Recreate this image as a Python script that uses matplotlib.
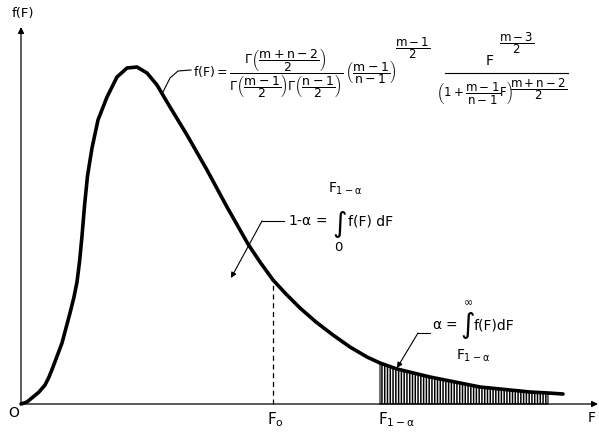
import numpy as np
import matplotlib
matplotlib.use('Agg')
import matplotlib.pyplot as plt

plt.rcParams['font.family'] = ['DejaVu Sans']
plt.rcParams['mathtext.fontset'] = 'custom'
plt.rcParams['mathtext.rm'] = 'DejaVu Sans'
plt.rcParams['mathtext.it'] = 'DejaVu Sans'
plt.rcParams['mathtext.sf'] = 'DejaVu Sans'
plt.rcParams['mathtext.bf'] = 'DejaVu Sans:bold'
plt.rcParams['hatch.linewidth'] = 1.1

# curve (F, f(F))
F_curve = np.array([0.00, 0.06, 0.12, 0.18, 0.24, 0.28, 0.32, 0.41, 0.49, 0.53,
                    0.56, 0.585, 0.61, 0.635, 0.665, 0.71, 0.77, 0.86, 0.96, 1.06,
                    1.16, 1.26, 1.36, 1.46, 1.66, 1.86, 2.06, 2.27, 2.39, 2.52,
                    2.65, 2.79, 2.95, 3.12, 3.29, 3.46, 3.59, 3.76, 4.09, 4.59,
                    5.09, 5.27, 5.42])
f_curve = np.array([0.00, 0.02, 0.07, 0.12, 0.19, 0.27, 0.37, 0.61, 0.91, 1.07,
                    1.22, 1.42, 1.68, 1.98, 2.28, 2.56, 2.84, 3.07, 3.27, 3.36,
                    3.37, 3.31, 3.19, 3.02, 2.69, 2.34, 1.97, 1.60, 1.42, 1.24,
                    1.10, 0.96, 0.82, 0.69, 0.57, 0.47, 0.41, 0.35, 0.27, 0.17,
                    0.12, 0.11, 0.10])

F_0 = 2.52          # dashed line
F_0_height = 1.24
F_crit = 3.59       # F_{1-alpha}, start of hatched tail
F_hatch_end = 5.27

fig = plt.figure(figsize=(5.99, 4.36), dpi=100, facecolor='white')
ax = fig.add_axes([0, 0, 1, 1])
ax.set_xlim(-0.21, 5.78)
ax.set_ylim(-0.32, 4.04)
ax.axis('off')

# axes with arrows
ax.annotate('', xy=(5.77, 0), xytext=(0, 0),
            arrowprops=dict(arrowstyle='-|>', color='black', lw=0.9,
                            mutation_scale=9, shrinkA=0, shrinkB=0))
ax.annotate('', xy=(0, 3.77), xytext=(0, 0),
            arrowprops=dict(arrowstyle='-|>', color='black', lw=0.9,
                            mutation_scale=9, shrinkA=0, shrinkB=0))

# hatched tail
m = (F_curve >= F_crit) & (F_curve <= F_hatch_end)
ax.fill_between(F_curve[m], 0, f_curve[m], facecolor='white', edgecolor='black',
                hatch='||||||', linewidth=0.8)

# density curve
ax.plot(F_curve, f_curve, color='black', lw=2.6, solid_capstyle='round',
        solid_joinstyle='round')

# dashed line at F_0
ax.plot([F_0, F_0], [0, F_0_height], color='black', lw=0.9, ls=(0, (4, 3)))

# axis labels
ax.text(0.015, 3.91, 'f(F)', fontsize=9.5, ha='center', va='center')
ax.text(-0.07, -0.09, 'O', fontsize=10, ha='center', va='center')
ax.text(5.71, -0.14, 'F', fontsize=10, ha='center', va='center')
ax.text(2.46, -0.06, r'$F_{o}$', fontsize=11, ha='left', va='top')
ax.text(3.57, -0.06, r'$F_{1-\alpha}$', fontsize=11, ha='left', va='top')

# formula for f(F), built in pieces so the exponents stay large
ax.plot([1.42, 1.49, 1.57, 1.70], [3.12, 3.26, 3.33, 3.34], color='black', lw=0.8)
left_part = (r'$f(F)=\dfrac{\Gamma\left(\dfrac{m+n-2}{2}\right)}'
             r'{\Gamma\left(\dfrac{m-1}{2}\right)\Gamma\left(\dfrac{n-1}{2}\right)}'
             r'\,\left(\dfrac{m-1}{n-1}\right)$')
ax.text(1.72, 3.31, left_part, fontsize=9, ha='left', va='center')
ax.text(3.92, 3.56, r'$\dfrac{m-1}{2}$', fontsize=8.5, ha='center', va='center')
ax.plot([4.24, 5.47], [3.31, 3.31], color='black', lw=0.8)
ax.text(4.69, 3.43, r'$F$', fontsize=10, ha='center', va='center')
ax.text(4.96, 3.61, r'$\dfrac{m-3}{2}$', fontsize=8.5, ha='center', va='center')
ax.text(4.54, 3.12, r'$\left(1+\dfrac{m-1}{n-1}F\right)$', fontsize=8.5,
        ha='center', va='center')
ax.text(5.18, 3.15, r'$\dfrac{m+n-2}{2}$', fontsize=8.5, ha='center', va='center')

# 1 - alpha annotation
ax.annotate('', xy=(2.10, 1.26), xytext=(2.41, 1.83),
            arrowprops=dict(arrowstyle='-|>', color='black', lw=0.8,
                            mutation_scale=8, shrinkA=0, shrinkB=0))
ax.plot([2.41, 2.63], [1.83, 1.83], color='black', lw=0.8)
ax.text(2.67, 1.83, r'1-$\alpha$ =', fontsize=10, ha='left', va='center')
ax.text(3.19, 1.80, '\u222b', fontsize=20, ha='center', va='center')
ax.text(3.27, 1.83, 'f(F) dF', fontsize=10, ha='left', va='center')
ax.text(3.24, 2.15, r'$F_{1-\alpha}$', fontsize=10, ha='center', va='center')
ax.text(3.17, 1.57, '0', fontsize=9.5, ha='center', va='center')

# alpha annotation
ax.annotate('', xy=(3.76, 0.36), xytext=(3.97, 0.71),
            arrowprops=dict(arrowstyle='-|>', color='black', lw=0.8,
                            mutation_scale=8, shrinkA=0, shrinkB=0))
ax.plot([3.97, 4.09], [0.71, 0.71], color='black', lw=0.8)
ax.text(4.11, 0.79, r'$\alpha$ =', fontsize=10, ha='left', va='center')
ax.text(4.47, 0.79, '\u222b', fontsize=20, ha='center', va='center')
ax.text(4.53, 0.79, 'f(F)dF', fontsize=10, ha='left', va='center')
ax.text(4.47, 1.02, r'$\infty$', fontsize=8, ha='center', va='center')
ax.text(4.52, 0.48, r'$F_{1-\alpha}$', fontsize=10, ha='center', va='center')

fig.savefig('out.png', dpi=100, facecolor='white')
